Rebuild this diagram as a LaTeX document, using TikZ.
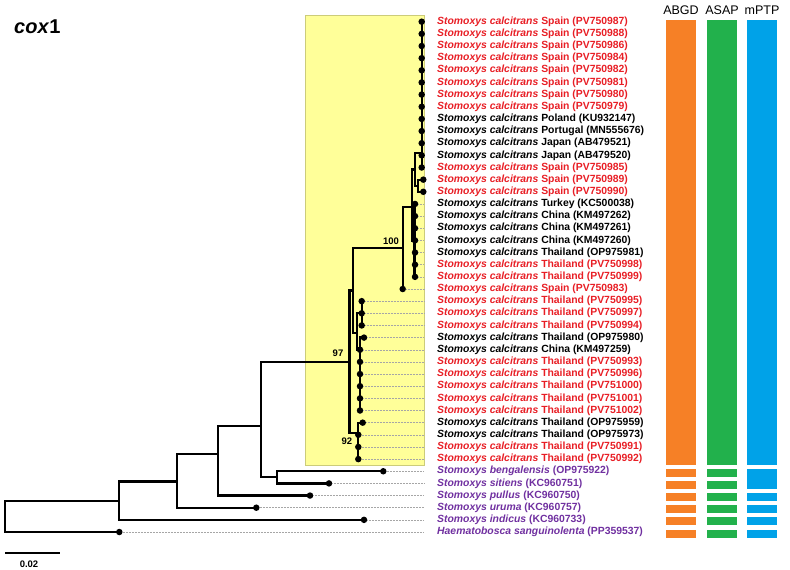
\documentclass[tikz,border=0pt]{standalone}
\usepackage{fontspec}
\setmainfont{Liberation Sans}
\usepackage{xcolor}
\usepackage{tikz}
\usetikzlibrary{positioning}
\definecolor{studycolor}{RGB}{232, 30, 37}
\definecolor{outcolor}{RGB}{112, 48, 160}
\definecolor{cladecolor}{RGB}{255, 255, 153}
\definecolor{abgdcolor}{RGB}{246, 128, 38}
\definecolor{asapcolor}{RGB}{34, 177, 76}
\definecolor{mptpcolor}{RGB}{0, 162, 232}
\newcommand{\stomcal}{\textit{Stomoxys calcitrans}}
\tikzset{
    branch/.style={line width=2.3pt, black, line cap=rect},
    tip/.style={circle, fill=black, inner sep=0pt, minimum size=6.5pt},
    guide/.style={densely dotted, black!35, line width=0.5pt},
    taxon/.style={anchor=west, inner sep=0pt, font=\fontsize{10.4}{12}\selectfont\bfseries},
    study taxon/.style={taxon, text=studycolor},
    ref taxon/.style={taxon, text=black},
    out taxon/.style={taxon, text=outcolor},
    support/.style={inner sep=0pt, font=\fontsize{9.5}{11}\selectfont\bfseries},
    clade box/.style={draw=cladecolor!80!black, line width=0.4pt, fill=cladecolor},
    method label/.style={font=\fontsize{12.5}{14}\selectfont},
    gene label/.style={anchor=west, inner sep=0pt, font=\fontsize{20}{24}\selectfont\bfseries},
    abgd bar/.style={fill=abgdcolor},
    asap bar/.style={fill=asapcolor},
    mptp bar/.style={fill=mptpcolor},
    scale bar/.style={line width=1.6pt, black}
}

\begin{document}
\begin{tikzpicture}[x=1pt, y=-1pt]
    \useasboundingbox (0,0) rectangle (790,570);

    % Highlighted S. calcitrans clade
    \node[clade box, minimum width=119pt, minimum height=450pt] (clade) at (364.5,240) {};

    % Taxon labels
    \node[study taxon] (l1) at (437,21.7) {\stomcal\ Spain (PV750987)};
    \node[study taxon] (l2) at (437,33.85) {\stomcal\ Spain (PV750988)};
    \node[study taxon] (l3) at (437,46) {\stomcal\ Spain (PV750986)};
    \node[study taxon] (l4) at (437,58.15) {\stomcal\ Spain (PV750984)};
    \node[study taxon] (l5) at (437,70.3) {\stomcal\ Spain (PV750982)};
    \node[study taxon] (l6) at (437,82.45) {\stomcal\ Spain (PV750981)};
    \node[study taxon] (l7) at (437,94.6) {\stomcal\ Spain (PV750980)};
    \node[study taxon] (l8) at (437,106.75) {\stomcal\ Spain (PV750979)};
    \node[ref taxon] (l9) at (437,118.9) {\stomcal\ Poland (KU932147)};
    \node[ref taxon] (l10) at (437,131.05) {\stomcal\ Portugal (MN555676)};
    \node[ref taxon] (l11) at (437,143.2) {\stomcal\ Japan (AB479521)};
    \node[ref taxon] (l12) at (437,155.35) {\stomcal\ Japan (AB479520)};
    \node[study taxon] (l13) at (437,167.5) {\stomcal\ Spain (PV750985)};
    \node[study taxon] (l14) at (437,179.65) {\stomcal\ Spain (PV750989)};
    \node[study taxon] (l15) at (437,191.8) {\stomcal\ Spain (PV750990)};
    \node[ref taxon] (l16) at (437,203.95) {\stomcal\ Turkey (KC500038)};
    \node[ref taxon] (l17) at (437,216.1) {\stomcal\ China (KM497262)};
    \node[ref taxon] (l18) at (437,228.25) {\stomcal\ China (KM497261)};
    \node[ref taxon] (l19) at (437,240.4) {\stomcal\ China (KM497260)};
    \node[ref taxon] (l20) at (437,252.55) {\stomcal\ Thailand (OP975981)};
    \node[study taxon] (l21) at (437,264.7) {\stomcal\ Thailand (PV750998)};
    \node[study taxon] (l22) at (437,276.85) {\stomcal\ Thailand (PV750999)};
    \node[study taxon] (l23) at (437,289) {\stomcal\ Spain (PV750983)};
    \node[study taxon] (l24) at (437,301.15) {\stomcal\ Thailand (PV750995)};
    \node[study taxon] (l25) at (437,313.3) {\stomcal\ Thailand (PV750997)};
    \node[study taxon] (l26) at (437,325.45) {\stomcal\ Thailand (PV750994)};
    \node[ref taxon] (l27) at (437,337.6) {\stomcal\ Thailand (OP975980)};
    \node[ref taxon] (l28) at (437,349.75) {\stomcal\ China (KM497259)};
    \node[study taxon] (l29) at (437,361.9) {\stomcal\ Thailand (PV750993)};
    \node[study taxon] (l30) at (437,374.05) {\stomcal\ Thailand (PV750996)};
    \node[study taxon] (l31) at (437,386.2) {\stomcal\ Thailand (PV751000)};
    \node[study taxon] (l32) at (437,398.35) {\stomcal\ Thailand (PV751001)};
    \node[study taxon] (l33) at (437,410.5) {\stomcal\ Thailand (PV751002)};
    \node[ref taxon] (l34) at (437,422.65) {\stomcal\ Thailand (OP975959)};
    \node[ref taxon] (l35) at (437,434.8) {\stomcal\ Thailand (OP975973)};
    \node[study taxon] (l36) at (437,446.95) {\stomcal\ Thailand (PV750991)};
    \node[study taxon] (l37) at (437,459.1) {\stomcal\ Thailand (PV750992)};
    \node[out taxon] (l38) at (437,471.25) {\textit{Stomoxys bengalensis} (OP975922)};
    \node[out taxon] (l39) at (437,483.4) {\textit{Stomoxys sitiens} (KC960751)};
    \node[out taxon] (l40) at (437,495.55) {\textit{Stomoxys pullus} (KC960750)};
    \node[out taxon] (l41) at (437,507.7) {\textit{Stomoxys uruma} (KC960757)};
    \node[out taxon] (l42) at (437,519.85) {\textit{Stomoxys indicus} (KC960733)};
    \node[out taxon] (l43) at (437,532) {\textit{Haematobosca sanguinolenta} (PP359537)};

    % Tips
    \node[tip] (t1) at (421.7,21.7) {};
    \node[tip] (t2) at (421.7,33.85) {};
    \node[tip] (t3) at (421.7,46) {};
    \node[tip] (t4) at (421.7,58.15) {};
    \node[tip] (t5) at (421.7,70.3) {};
    \node[tip] (t6) at (421.7,82.45) {};
    \node[tip] (t7) at (421.7,94.6) {};
    \node[tip] (t8) at (421.7,106.75) {};
    \node[tip] (t9) at (421.7,118.9) {};
    \node[tip] (t10) at (421.7,131.05) {};
    \node[tip] (t11) at (421.7,143.2) {};
    \node[tip] (t12) at (421.7,155.35) {};
    \node[tip] (t13) at (421.7,167.5) {};
    \node[tip] (t14) at (423.3,179.65) {};
    \node[tip] (t15) at (423.3,191.8) {};
    \node[tip] (t16) at (415,203.95) {};
    \node[tip] (t17) at (415,216.1) {};
    \node[tip] (t18) at (415,228.25) {};
    \node[tip] (t19) at (415,240.4) {};
    \node[tip] (t20) at (415,252.55) {};
    \node[tip] (t21) at (415,264.7) {};
    \node[tip] (t22) at (415,276.85) {};
    \node[tip] (t23) at (402.7,289) {};
    \node[tip] (t24) at (361.7,301.15) {};
    \node[tip] (t25) at (361.7,313.3) {};
    \node[tip] (t26) at (361.7,325.45) {};
    \node[tip] (t27) at (364,337.6) {};
    \node[tip] (t28) at (360,349.75) {};
    \node[tip] (t29) at (360,361.9) {};
    \node[tip] (t30) at (360,374.05) {};
    \node[tip] (t31) at (360,386.2) {};
    \node[tip] (t32) at (360,398.35) {};
    \node[tip] (t33) at (360,410.5) {};
    \node[tip] (t34) at (362.7,422.65) {};
    \node[tip] (t35) at (358.3,434.8) {};
    \node[tip] (t36) at (358.3,446.95) {};
    \node[tip] (t37) at (358.3,459.1) {};
    \node[tip] (t38) at (383.3,471.25) {};
    \node[tip] (t39) at (329,483.4) {};
    \node[tip] (t40) at (310,495.55) {};
    \node[tip] (t41) at (256.3,507.7) {};
    \node[tip] (t42) at (364,519.85) {};
    \node[tip] (t43) at (119.3,532) {};

    % Internal nodes
    \coordinate (root) at (5,516.4);
    \coordinate (A) at (119.3,500.7);
    \coordinate (B) at (176.7,481.5);
    \coordinate (C) at (218.3,454.3);
    \coordinate (D) at (261,425.7);
    \coordinate (E) at (276.7,477.3);
    \coordinate (F) at (349.5,362.3);
    \coordinate (G) at (353.3,290.5);
    \coordinate (K) at (358.3,433);
    \coordinate (L) at (358.3,446.95);
    \coordinate (H) at (357,333.3);
    \coordinate (T) at (361.7,313.3);
    \coordinate (U) at (360,350);
    \coordinate (P) at (402.7,248);
    \coordinate (M) at (411.7,207.3);
    \coordinate (N) at (414.5,240.4);
    \coordinate (Q) at (415,169.5);
    \coordinate (R) at (421.7,153.3);
    \coordinate (S) at (418.3,185.7);

    % Dotted guides to the labels
    \foreach \i in {16,...,43}
        \draw[guide] (t\i.east) -- (t\i -| clade.east);

    % Branches
    \draw[branch] (root) |- (A) (root) |- (t43.center);
    \draw[branch] (A) |- (B) (A) |- (t42.center);
    \draw[branch] (B) |- (C) (B) |- (t41.center);
    \draw[branch] (C) |- (D) (C) |- (t40.center);
    \draw[branch] (D) |- (F) (D) |- (E);
    \draw[branch] (E) |- (t38.center) (E) |- (t39.center);
    \draw[branch] (F) |- (G) (F) |- (K);
    \draw[branch] (G) |- (P) (G) |- (H);
    \draw[branch] (P) |- (M) (P) |- (t23.center);
    \draw[branch] (M) |- (Q) (M) |- (N);
    \draw[branch] (Q) |- (R) (Q) |- (S);
    \foreach \i in {1,...,13}
        \draw[branch] (R) |- (t\i.center);
    \draw[branch] (S) |- (t14.center) (S) |- (t15.center);
    \foreach \i in {16,...,22}
        \draw[branch] (N) |- (t\i.center);
    \draw[branch] (H) |- (T) (H) |- (U);
    \foreach \i in {24,25,26}
        \draw[branch] (T) |- (t\i.center);
    \foreach \i in {27,...,33}
        \draw[branch] (U) |- (t\i.center);
    \draw[branch] (K) |- (t34.center) (K) |- (L);
    \foreach \i in {35,36,37}
        \draw[branch] (L) |- (t\i.center);

    % Bootstrap support
    \node[support, above left=3.5pt and 3.5pt of P] (bs100) {100};
    \node[support, above left=6pt and 6pt of F] (bs97) {97};
    \node[support, above left=2.5pt and 6pt of L] (bs92) {92};

    % Species delimitation bars
    \fill[abgd bar] (666,20) rectangle (696,465);
    \fill[asap bar] (707,20) rectangle (737,465);
    \fill[mptp bar] (747,20) rectangle (777,465);
    \foreach \y in {471.25,483.4,495.55,507.7,519.85,532} {
        \fill[abgd bar] (666,\y-2.5) rectangle (696,\y+5.5);
        \fill[asap bar] (707,\y-2.5) rectangle (737,\y+5.5);
    }
    \fill[mptp bar] (747,468.75) rectangle (777,488.9);
    \foreach \y in {495.55,507.7,519.85,532}
        \fill[mptp bar] (747,\y-2.5) rectangle (777,\y+5.5);

    \node[method label] (abgd) at (681,10) {ABGD};
    \node[method label] (asap) at (722,10) {ASAP};
    \node[method label] (mptp) at (762,10) {mPTP};

    % Gene label and scale
    \node[gene label] (gene) at (14,27) {\textit{cox}1};
    \coordinate (sb0) at (5,553);
    \coordinate (sb1) at (60,553);
    \draw[scale bar] (sb0) -- (sb1);
    \node[font=\fontsize{9.5}{11}\selectfont\bfseries] (sblabel) at (29,564) {0.02};
\end{tikzpicture}
\end{document}
